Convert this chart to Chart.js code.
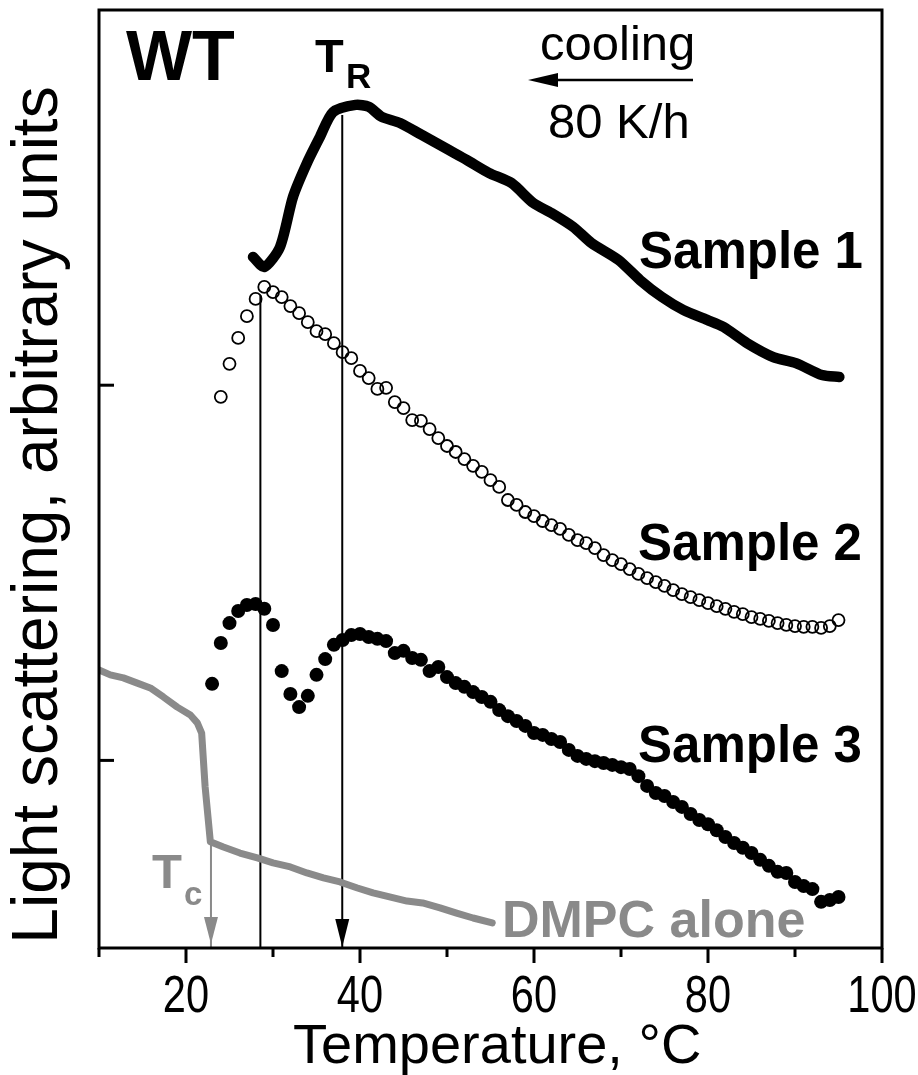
<!DOCTYPE html>
<html>
<head>
<meta charset="utf-8">
<script src="https://cdn.jsdelivr.net/npm/chart.js@4.4.1/dist/chart.umd.min.js"></script>
<style>
html, body { margin: 0; padding: 0; background: #fff; }
#wrap { width: 918px; height: 1075px; }
</style>
</head>
<body>
<div id="wrap"><canvas id="grafico" width="918" height="1075"></canvas></div>
<script>
// Sample 1 - linea spessa
var temp1 = [27.7, 29.0, 30.8, 32.3, 33.9, 35.4, 36.9, 39.5, 41.0, 42.5, 44.6, 47.1, 50.2, 52.3, 54.8, 57.4, 59.9, 62.0, 64.5, 66.6, 69.7, 72.2, 74.7, 77.2, 79.9, 81.8, 84.5, 87.5, 90.1, 93.1, 95.1];
var valori1 = [2.342, 2.315, 2.368, 2.502, 2.592, 2.662, 2.728, 2.747, 2.742, 2.715, 2.699, 2.667, 2.627, 2.600, 2.566, 2.539, 2.486, 2.459, 2.422, 2.379, 2.334, 2.280, 2.235, 2.200, 2.174, 2.155, 2.112, 2.075, 2.059, 2.027, 2.022];

// Sample 2 - cerchi vuoti
var temp2 = [24, 25, 26, 27, 28, 29, 30, 31, 32, 33, 34, 35, 36, 37, 38, 39, 40, 41, 42, 43, 44, 45, 46, 47, 48, 49, 50, 51, 52, 53, 54, 55, 56, 57, 58, 59, 60, 61, 62, 63, 64, 65, 66, 67, 68, 69, 70, 71, 72, 73, 74, 75, 76, 77, 78, 79, 80, 81, 82, 83, 84, 85, 86, 87, 88, 89, 90, 91, 92, 93, 94, 95];
var valori2 = [1.969, 2.057, 2.126, 2.184, 2.230, 2.262, 2.248, 2.235, 2.211, 2.192, 2.168, 2.144, 2.136, 2.112, 2.088, 2.072, 2.038, 2.019, 1.990, 1.993, 1.955, 1.939, 1.907, 1.905, 1.883, 1.859, 1.838, 1.822, 1.803, 1.785, 1.769, 1.747, 1.729, 1.694, 1.681, 1.662, 1.651, 1.638, 1.627, 1.617, 1.601, 1.587, 1.579, 1.566, 1.547, 1.534, 1.523, 1.510, 1.497, 1.486, 1.475, 1.465, 1.454, 1.443, 1.435, 1.427, 1.419, 1.411, 1.404, 1.396, 1.390, 1.382, 1.377, 1.372, 1.366, 1.361, 1.358, 1.356, 1.356, 1.353, 1.358, 1.374];

// Sample 3 - punti pieni
var temp3 = [23, 24, 25, 26, 27, 28, 29, 30, 31, 32, 33, 34, 35, 36, 37, 38, 39, 40, 41, 42, 43, 44, 45, 46, 47, 48, 49, 50, 51, 52, 53, 54, 55, 56, 57, 58, 59, 60, 61, 62, 63, 64, 65, 66, 67, 68, 69, 70, 71, 72, 73, 74, 75, 76, 77, 78, 79, 80, 81, 82, 83, 84, 85, 86, 87, 88, 89, 90, 91, 92, 93, 94, 95];
var valori3 = [1.204, 1.313, 1.366, 1.398, 1.414, 1.417, 1.404, 1.361, 1.238, 1.177, 1.142, 1.172, 1.228, 1.270, 1.308, 1.321, 1.334, 1.337, 1.329, 1.324, 1.318, 1.286, 1.292, 1.273, 1.268, 1.238, 1.249, 1.222, 1.206, 1.196, 1.182, 1.169, 1.156, 1.134, 1.118, 1.105, 1.092, 1.073, 1.068, 1.057, 1.049, 1.028, 1.012, 1.004, 0.998, 0.993, 0.988, 0.982, 0.977, 0.958, 0.932, 0.913, 0.905, 0.889, 0.876, 0.857, 0.841, 0.830, 0.814, 0.796, 0.780, 0.767, 0.753, 0.735, 0.719, 0.703, 0.700, 0.676, 0.665, 0.657, 0.623, 0.628, 0.636];

// DMPC alone - linea grigia
var tempDmpc = [10, 11.3, 12.8, 14.4, 15.9, 17.4, 19.0, 20.5, 21.3, 21.8, 22.2, 22.8, 24.3, 26.2, 28.2, 30.0, 32.0, 33.9, 35.8, 37.7, 39.7, 41.5, 43.4, 45.4, 47.2, 49.2, 51.1, 53.0, 55.2];
var valoriDmpc = [1.241, 1.228, 1.220, 1.206, 1.193, 1.169, 1.142, 1.121, 1.100, 1.073, 0.929, 0.783, 0.769, 0.753, 0.740, 0.727, 0.716, 0.700, 0.687, 0.676, 0.660, 0.647, 0.636, 0.625, 0.620, 0.607, 0.593, 0.580, 0.567];

// linee verticali (Tc, picco sample 2, TR)
var tempTc = 22.87;
var cimaTc = 0.783;
var tempPicco2 = 28.55;
var cimaPicco2 = 2.24;
var tempTR = 37.96;
var cimaTR = 2.72;

var tickMaggiori = [20, 40, 60, 80, 100];
var tickMinori = [10, 30, 50, 70, 90];
var tickY = [1, 2];

var grigio = '#8a8a8a';
var fontBase = '"Liberation Sans", Arial, sans-serif';

function punti(xs, ys) {
    var out = [];
    for (var i = 0; i < xs.length; i++) {
        out.push({x: xs[i], y: ys[i]});
    }
    return out;
}

function linea(ctx, x1, y1, x2, y2) {
    ctx.beginPath();
    ctx.moveTo(x1, y1);
    ctx.lineTo(x2, y2);
    ctx.stroke();
}

function punta(ctx, x, yPunta, lung, mezza, colore) {
    ctx.fillStyle = colore;
    ctx.beginPath();
    ctx.moveTo(x, yPunta);
    ctx.lineTo(x - mezza, yPunta - lung);
    ctx.lineTo(x + mezza, yPunta - lung);
    ctx.closePath();
    ctx.fill();
}

function scritta(ctx, testo, x, y, font, colore) {
    ctx.font = font;
    ctx.fillStyle = colore;
    ctx.textAlign = 'left';
    ctx.textBaseline = 'alphabetic';
    ctx.fillText(testo, x, y);
}

var disegno = {
    id: 'disegno',
    afterDatasetsDraw: function (chart) {
        var ctx = chart.ctx;
        var a = chart.chartArea;
        var sx = chart.scales.x;
        var sy = chart.scales.y;
        ctx.save();

        // cornice
        ctx.strokeStyle = '#000';
        ctx.lineWidth = 3;
        ctx.strokeRect(a.left, a.top, a.right - a.left, a.bottom - a.top);

        // tacche asse x (verso il basso) con etichette strette
        ctx.lineCap = 'butt';
        for (var i = 0; i < tickMaggiori.length; i++) {
            var px = sx.getPixelForValue(tickMaggiori[i]);
            linea(ctx, px, a.bottom, px, a.bottom + 15);
            ctx.save();
            ctx.translate(px, 1012);
            ctx.scale(0.8, 1);
            ctx.font = '52px ' + fontBase;
            ctx.fillStyle = '#000';
            ctx.textAlign = 'center';
            ctx.textBaseline = 'alphabetic';
            ctx.fillText(String(tickMaggiori[i]), 0, 0);
            ctx.restore();
        }
        for (var j = 0; j < tickMinori.length; j++) {
            var pm = sx.getPixelForValue(tickMinori[j]);
            linea(ctx, pm, a.bottom, pm, a.bottom + 9);
        }
        // tacche asse y (verso l'interno)
        for (var k = 0; k < tickY.length; k++) {
            var py = sy.getPixelForValue(tickY[k]);
            linea(ctx, a.left, py, a.left + 15, py);
        }

        // punte delle frecce
        punta(ctx, sx.getPixelForValue(tempTR), a.bottom - 1, 28, 7, '#000');
        punta(ctx, sx.getPixelForValue(tempTc), a.bottom - 4, 27, 7, grigio);

        // freccia cooling
        ctx.strokeStyle = '#000';
        ctx.lineWidth = 2.5;
        linea(ctx, 693, 80, 550, 80);
        ctx.fillStyle = '#000';
        ctx.beginPath();
        ctx.moveTo(528, 80);
        ctx.lineTo(558, 73);
        ctx.lineTo(558, 87);
        ctx.closePath();
        ctx.fill();

        // testi
        scritta(ctx, 'WT', 126, 80, 'bold 70px ' + fontBase, '#000');
        scritta(ctx, 'T', 315, 72, 'bold 47px ' + fontBase, '#000');
        scritta(ctx, 'R', 346, 88, 'bold 35px ' + fontBase, '#000');
        scritta(ctx, 'cooling', 540, 60, '49px ' + fontBase, '#000');
        scritta(ctx, '80 K/h', 548, 138, '49px ' + fontBase, '#000');
        scritta(ctx, 'Sample 1', 639, 268, 'bold 51px ' + fontBase, '#000');
        scritta(ctx, 'Sample 2', 638, 560, 'bold 51px ' + fontBase, '#000');
        scritta(ctx, 'Sample 3', 638, 762, 'bold 51px ' + fontBase, '#000');
        scritta(ctx, 'DMPC alone', 502, 937, 'bold 52px ' + fontBase, grigio);
        scritta(ctx, 'T', 152, 888, 'bold 49px ' + fontBase, grigio);
        scritta(ctx, 'c', 184, 905, 'bold 33px ' + fontBase, grigio);

        // titoli assi
        scritta(ctx, 'Temperature, \u00B0C', 293, 1063, '56px ' + fontBase, '#000');
        ctx.save();
        ctx.translate(57, 515);
        ctx.rotate(-Math.PI / 2);
        ctx.font = '64px ' + fontBase;
        ctx.fillStyle = '#000';
        ctx.textAlign = 'center';
        ctx.textBaseline = 'alphabetic';
        ctx.fillText('Light scattering, arbitrary units', 0, 0);
        ctx.restore();

        ctx.restore();
    }
};

var ctx = document.getElementById('grafico').getContext('2d');
var chart = new Chart(ctx, {
    type: 'scatter',
    data: {
        datasets: [{
            label: 'Sample 1',
            data: punti(temp1, valori1),
            showLine: true,
            borderColor: '#000',
            borderWidth: 10.5,
            borderCapStyle: 'round',
            borderJoinStyle: 'round',
            tension: 0.25,
            pointRadius: 0
        }, {
            label: 'Sample 2',
            data: punti(temp2, valori2),
            showLine: false,
            pointRadius: 6,
            pointBorderWidth: 1.8,
            pointBorderColor: '#000',
            pointBackgroundColor: 'rgba(0,0,0,0)'
        }, {
            label: 'Sample 3',
            data: punti(temp3, valori3),
            showLine: false,
            pointRadius: 7,
            pointBorderWidth: 0,
            pointBackgroundColor: '#000'
        }, {
            label: 'DMPC alone',
            data: punti(tempDmpc, valoriDmpc),
            showLine: true,
            borderColor: grigio,
            borderWidth: 7,
            borderJoinStyle: 'round',
            borderCapStyle: 'round',
            pointRadius: 0
        }, {
            label: 'Tc',
            data: [{x: tempTc, y: cimaTc}, {x: tempTc, y: 0.5}],
            showLine: true,
            borderColor: grigio,
            borderWidth: 2,
            pointRadius: 0
        }, {
            label: 'picco 2',
            data: [{x: tempPicco2, y: cimaPicco2}, {x: tempPicco2, y: 0.5}],
            showLine: true,
            borderColor: '#000',
            borderWidth: 2,
            pointRadius: 0
        }, {
            label: 'TR',
            data: [{x: tempTR, y: cimaTR}, {x: tempTR, y: 0.5}],
            showLine: true,
            borderColor: '#000',
            borderWidth: 2,
            pointRadius: 0
        }]
    },
    options: {
        responsive: false,
        animation: false,
        devicePixelRatio: 1,
        layout: {padding: {top: 10, right: 36, left: 0, bottom: 0}},
        plugins: {
            legend: {display: false},
            tooltip: {enabled: false}
        },
        scales: {
            x: {
                type: 'linear',
                min: 10,
                max: 100,
                afterFit: function (s) { s.height = 127; s.paddingLeft = 0; s.paddingRight = 0; },
                grid: {display: false, drawTicks: false},
                border: {display: false},
                ticks: {display: false, stepSize: 10}
            },
            y: {
                type: 'linear',
                min: 0.5,
                max: 3.0,
                afterFit: function (s) { s.width = 99; },
                grid: {display: false, drawTicks: false},
                border: {display: false},
                ticks: {display: false}
            }
        }
    },
    plugins: [disegno]
});
</script>
</body>
</html>
